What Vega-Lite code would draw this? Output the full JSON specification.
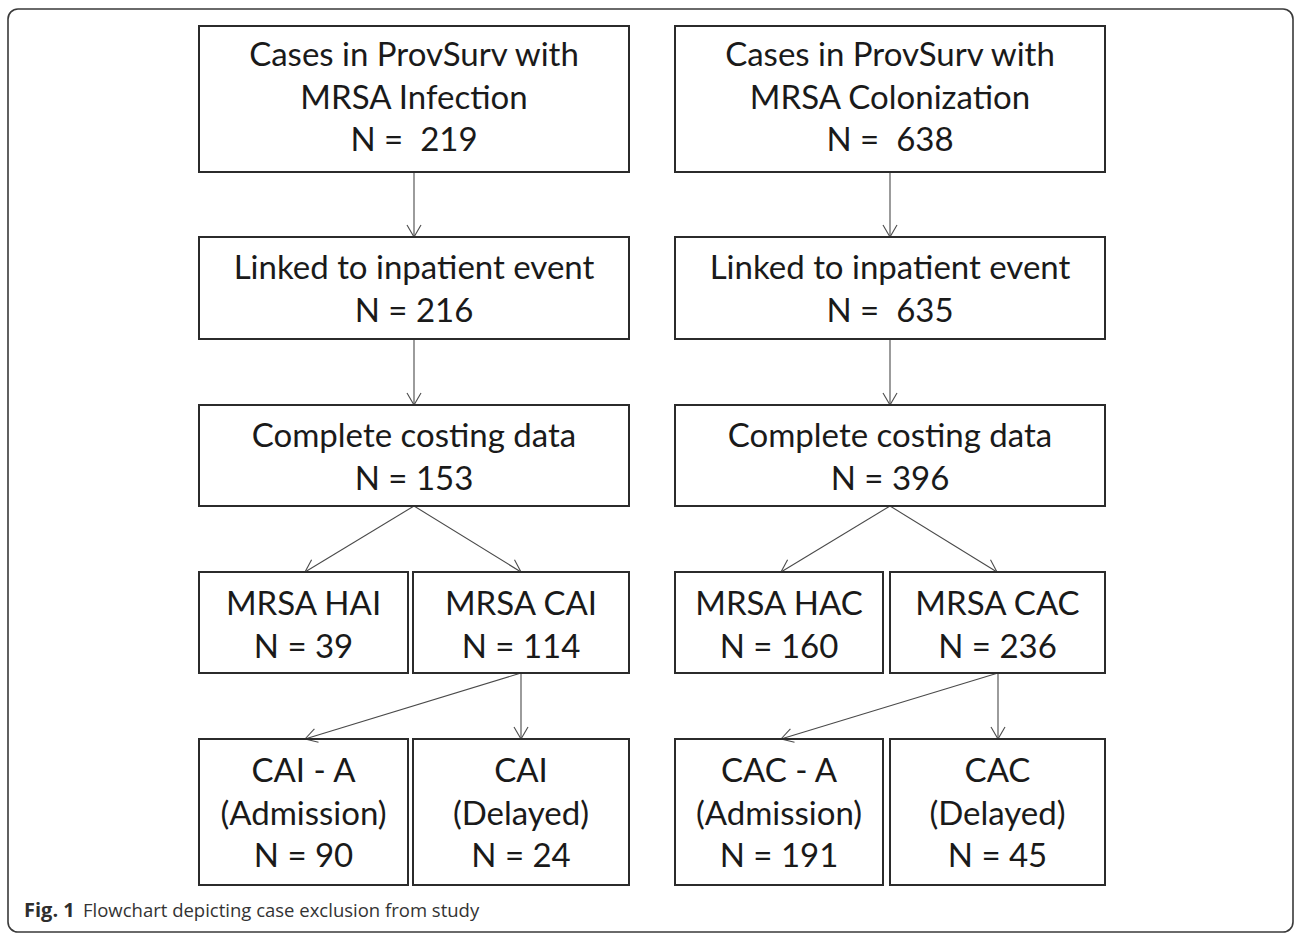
{
  "$schema": "https://vega.github.io/schema/vega-lite/v6.json",
  "width": 1296,
  "height": 935,
  "autosize": {"type": "fit", "contains": "padding"},
  "padding": 0,
  "background": "white",
  "config": {"view": {"stroke": null}},
  "datasets": {
    "frame": [{"x1": 8, "x2": 1293, "y1": 9, "y2": 932}],
    "boxes": [
      {"x1": 199, "x2": 629, "y1": 26, "y2": 172},
      {"x1": 675, "x2": 1105, "y1": 26, "y2": 172},
      {"x1": 199, "x2": 629, "y1": 237, "y2": 339},
      {"x1": 675, "x2": 1105, "y1": 237, "y2": 339},
      {"x1": 199, "x2": 629, "y1": 405, "y2": 506},
      {"x1": 675, "x2": 1105, "y1": 405, "y2": 506},
      {"x1": 199, "x2": 408, "y1": 572, "y2": 673},
      {"x1": 413, "x2": 629, "y1": 572, "y2": 673},
      {"x1": 675, "x2": 883, "y1": 572, "y2": 673},
      {"x1": 890, "x2": 1105, "y1": 572, "y2": 673},
      {"x1": 199, "x2": 408, "y1": 739, "y2": 885},
      {"x1": 413, "x2": 629, "y1": 739, "y2": 885},
      {"x1": 675, "x2": 883, "y1": 739, "y2": 885},
      {"x1": 890, "x2": 1105, "y1": 739, "y2": 885}
    ],
    "lines": [
      {"x1": 414, "y1": 172, "x2": 414, "y2": 237},
      {"x1": 407, "y1": 225, "x2": 414, "y2": 237},
      {"x1": 421, "y1": 225, "x2": 414, "y2": 237},
      {"x1": 414, "y1": 339, "x2": 414, "y2": 405},
      {"x1": 407, "y1": 393, "x2": 414, "y2": 405},
      {"x1": 421, "y1": 393, "x2": 414, "y2": 405},
      {"x1": 890, "y1": 172, "x2": 890, "y2": 237},
      {"x1": 883, "y1": 225, "x2": 890, "y2": 237},
      {"x1": 897, "y1": 225, "x2": 890, "y2": 237},
      {"x1": 890, "y1": 339, "x2": 890, "y2": 405},
      {"x1": 883, "y1": 393, "x2": 890, "y2": 405},
      {"x1": 897, "y1": 393, "x2": 890, "y2": 405},
      {"x1": 521, "y1": 673, "x2": 521, "y2": 739},
      {"x1": 514, "y1": 727, "x2": 521, "y2": 739},
      {"x1": 528, "y1": 727, "x2": 521, "y2": 739},
      {"x1": 998, "y1": 673, "x2": 998, "y2": 739},
      {"x1": 991, "y1": 727, "x2": 998, "y2": 739},
      {"x1": 1005, "y1": 727, "x2": 998, "y2": 739},
      {"x1": 414, "y1": 506, "x2": 305, "y2": 572},
      {"x1": 318.9, "y1": 571.8, "x2": 305, "y2": 572},
      {"x1": 311.6, "y1": 559.8, "x2": 305, "y2": 572},
      {"x1": 414, "y1": 506, "x2": 521, "y2": 572},
      {"x1": 507.1, "y1": 571.7, "x2": 521, "y2": 572},
      {"x1": 514.5, "y1": 559.7, "x2": 521, "y2": 572},
      {"x1": 890, "y1": 506, "x2": 781, "y2": 572},
      {"x1": 794.9, "y1": 571.8, "x2": 781, "y2": 572},
      {"x1": 787.6, "y1": 559.8, "x2": 781, "y2": 572},
      {"x1": 890, "y1": 506, "x2": 997, "y2": 572},
      {"x1": 983.1, "y1": 571.7, "x2": 997, "y2": 572},
      {"x1": 990.5, "y1": 559.7, "x2": 997, "y2": 572},
      {"x1": 521, "y1": 673, "x2": 305, "y2": 739},
      {"x1": 318.5, "y1": 742.2, "x2": 305, "y2": 739},
      {"x1": 314.4, "y1": 728.8, "x2": 305, "y2": 739},
      {"x1": 998, "y1": 673, "x2": 781, "y2": 739},
      {"x1": 794.5, "y1": 742.2, "x2": 781, "y2": 739},
      {"x1": 790.4, "y1": 728.8, "x2": 781, "y2": 739}
    ],
    "texts": [
      {"x": 414, "y": 66, "t": "Cases in ProvSurv with"},
      {"x": 414, "y": 109, "t": "MRSA Infection"},
      {"x": 414, "y": 151, "t": "N =\u00a0 219"},
      {"x": 890, "y": 66, "t": "Cases in ProvSurv with"},
      {"x": 890, "y": 109, "t": "MRSA Colonization"},
      {"x": 890, "y": 151, "t": "N =\u00a0 638"},
      {"x": 414, "y": 279, "t": "Linked to inpatient event"},
      {"x": 414, "y": 322, "t": "N = 216"},
      {"x": 890, "y": 279, "t": "Linked to inpatient event"},
      {"x": 890, "y": 322, "t": "N =\u00a0 635"},
      {"x": 414, "y": 447, "t": "Complete costing data"},
      {"x": 414, "y": 490, "t": "N = 153"},
      {"x": 890, "y": 447, "t": "Complete costing data"},
      {"x": 890, "y": 490, "t": "N = 396"},
      {"x": 303.5, "y": 615, "t": "MRSA HAI"},
      {"x": 303.5, "y": 658, "t": "N = 39"},
      {"x": 521, "y": 615, "t": "MRSA CAI"},
      {"x": 521, "y": 658, "t": "N = 114"},
      {"x": 779, "y": 615, "t": "MRSA HAC"},
      {"x": 779, "y": 658, "t": "N = 160"},
      {"x": 997.5, "y": 615, "t": "MRSA CAC"},
      {"x": 997.5, "y": 658, "t": "N = 236"},
      {"x": 303.5, "y": 782, "t": "CAI - A"},
      {"x": 303.5, "y": 825, "t": "(Admission)"},
      {"x": 303.5, "y": 867, "t": "N = 90"},
      {"x": 521, "y": 782, "t": "CAI"},
      {"x": 521, "y": 825, "t": "(Delayed)"},
      {"x": 521, "y": 867, "t": "N = 24"},
      {"x": 779, "y": 782, "t": "CAC - A"},
      {"x": 779, "y": 825, "t": "(Admission)"},
      {"x": 779, "y": 867, "t": "N = 191"},
      {"x": 997.5, "y": 782, "t": "CAC"},
      {"x": 997.5, "y": 825, "t": "(Delayed)"},
      {"x": 997.5, "y": 867, "t": "N = 45"}
    ],
    "capBold": [{"x": 24, "y": 917, "t": "Fig. 1"}],
    "cap": [{"x": 83, "y": 917, "t": "Flowchart depicting case exclusion from study"}]
  },
  "layer": [
    {
      "data": {"name": "frame"},
      "mark": {"type": "rect", "fill": "white", "stroke": "#3a3a3a", "strokeWidth": 1.6, "cornerRadius": 10},
      "encoding": {
        "x": {"field": "x1", "type": "quantitative", "scale": {"domain": [0, 1296], "nice": false, "zero": false}, "axis": null},
        "x2": {"field": "x2"},
        "y": {"field": "y1", "type": "quantitative", "scale": {"domain": [0, 935], "nice": false, "zero": false, "reverse": true}, "axis": null},
        "y2": {"field": "y2"}
      }
    },
    {
      "data": {"name": "lines"},
      "mark": {"type": "rule", "stroke": "#4a4a4a", "strokeWidth": 1.1},
      "encoding": {
        "x": {"field": "x1", "type": "quantitative"},
        "x2": {"field": "x2"},
        "y": {"field": "y1", "type": "quantitative"},
        "y2": {"field": "y2"}
      }
    },
    {
      "data": {"name": "boxes"},
      "mark": {"type": "rect", "fill": "white", "fillOpacity": 0, "stroke": "#2b2b2b", "strokeWidth": 2},
      "encoding": {
        "x": {"field": "x1", "type": "quantitative"},
        "x2": {"field": "x2"},
        "y": {"field": "y1", "type": "quantitative"},
        "y2": {"field": "y2"}
      }
    },
    {
      "data": {"name": "texts"},
      "mark": {"type": "text", "font": "Lato", "fontSize": 33, "fill": "#1a1a1a", "align": "center", "baseline": "alphabetic"},
      "encoding": {
        "x": {"field": "x", "type": "quantitative"},
        "y": {"field": "y", "type": "quantitative"},
        "text": {"field": "t"}
      }
    },
    {
      "data": {"name": "capBold"},
      "mark": {"type": "text", "font": "Open Sans", "fontSize": 20, "fontWeight": "bold", "fill": "#2e2e2e", "align": "left", "baseline": "alphabetic"},
      "encoding": {
        "x": {"field": "x", "type": "quantitative"},
        "y": {"field": "y", "type": "quantitative"},
        "text": {"field": "t"}
      }
    },
    {
      "data": {"name": "cap"},
      "mark": {"type": "text", "font": "Open Sans", "fontSize": 18.5, "fill": "#333333", "align": "left", "baseline": "alphabetic"},
      "encoding": {
        "x": {"field": "x", "type": "quantitative"},
        "y": {"field": "y", "type": "quantitative"},
        "text": {"field": "t"}
      }
    }
  ]
}
